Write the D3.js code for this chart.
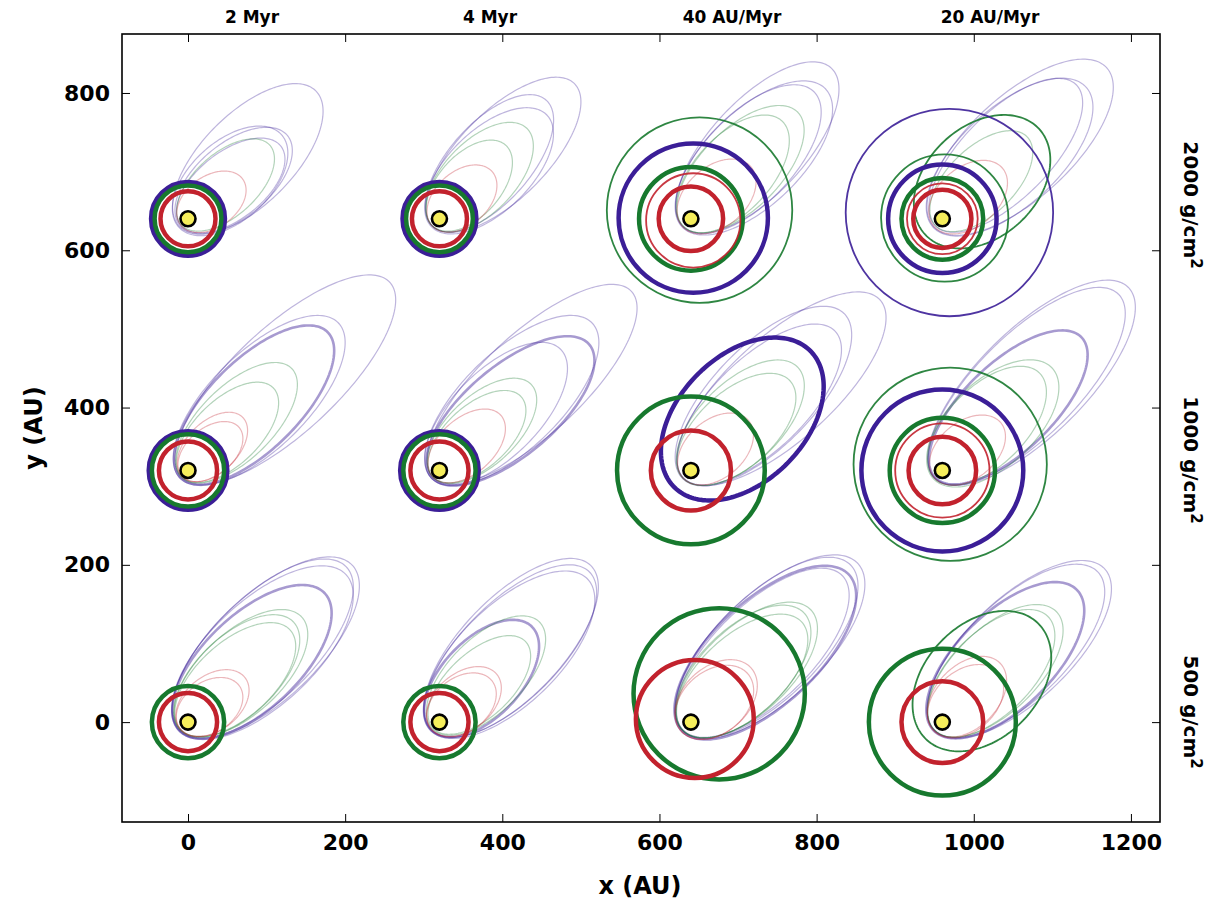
<!DOCTYPE html>
<html>
<head>
<meta charset="utf-8">
<script src="https://cdn.jsdelivr.net/npm/d3@7"></script>
<style>
  body { margin: 0; background: #fff; }
  text { font-family: "DejaVu Sans", sans-serif; font-weight: bold; fill: #000; }
</style>
</head>
<body>
<svg id="chart" width="1215" height="903"></svg>
<script>
// ---- data ----
var xTicks = [0, 200, 400, 600, 800, 1000, 1200];
var yTicks = [0, 200, 400, 600, 800];
var colTitles = ['2 Myr', '4 Myr', '40 AU/Myr', '20 AU/Myr'];
var rowLabels = ['2000', '1000', '500'];      // g/cm^2, top to bottom
var starX = [0, 320, 640, 960];               // AU, one per column
var starY = [640, 320, 0];                    // AU, one per row

// initial (faint) orbits: col, row, planet, apocentre Q (AU), e, apocentre angle (deg), weight
var initialOrbits = [
  [0,0,'p',230,0.88,45,0],[0,0,'p',165,0.85,40,0],[0,0,'p',160,0.82,42,0],[0,0,'p',150,0.85,38,0],
  [0,0,'g',140,0.85,42,0],[0,0,'r',86,0.75,36,0],
  [1,0,'p',243,0.90,45,0],[1,0,'p',203,0.88,48,0],[1,0,'p',190,0.86,44,0],
  [1,0,'g',160,0.85,46,0],[1,0,'g',126,0.82,48,0],[1,0,'r',90,0.75,42,0],
  [2,0,'p',262,0.90,47,0],[2,0,'p',238,0.88,44,0],[2,0,'p',225,0.88,46,0],
  [2,0,'g',192,0.87,45,0],[2,0,'g',170,0.85,47,0],[2,0,'r',101,0.75,41,0],
  [3,0,'p',284,0.90,42.6,0],[3,0,'p',248,0.88,42.5,0],[3,0,'p',241,0.90,45,0],
  [3,0,'g',150,0.85,44,0],[3,0,'r',100,0.75,40,0],
  [0,1,'p',351,0.93,43,0],[0,1,'p',268,0.90,44.5,0],[0,1,'p',250,0.90,44.7,1],
  [0,1,'g',185,0.88,44.5,0],[0,1,'g',151,0.86,44,0],[0,1,'r',97,0.80,44,0],[0,1,'r',85,0.78,40,0],
  [1,1,'p',334,0.93,43,0],[1,1,'p',270,0.90,44,0],[1,1,'p',249,0.90,40,1],[1,1,'p',218,0.88,45,0],
  [1,1,'g',160,0.86,43,0],[1,1,'g',140,0.85,42,0],[1,1,'r',105,0.80,42,0],
  [2,1,'p',324,0.92,42,0],[2,1,'p',279,0.90,45.7,0],[2,1,'p',255,0.90,44,0],
  [2,1,'g',189,0.86,44,0],[2,1,'g',170,0.85,42,0],[2,1,'r',97,0.75,41,0],
  [3,1,'p',332,0.92,44.5,0],[3,1,'p',317,0.92,45,0],[3,1,'p',245,0.90,43.7,1],
  [3,1,'g',191,0.85,43,0],[3,1,'g',175,0.85,45,0],[3,1,'r',96,0.75,39,0],
  [0,2,'p',289,0.90,43.7,0],[0,2,'p',282,0.90,44.5,0],[0,2,'p',275,0.89,43,0],[0,2,'p',239,0.88,43.3,1],
  [0,2,'g',197,0.87,42.7,0],[0,2,'g',185,0.86,43.5,0],[0,2,'g',175,0.86,42,0],
  [0,2,'r',92,0.75,38,0],[0,2,'r',80,0.72,35,0],
  [1,2,'p',277,0.90,46,0],[1,2,'p',270,0.90,45,0],[1,2,'p',262,0.89,44,0],[1,2,'p',169,0.84,46,1],
  [1,2,'g',180,0.87,45,0],[1,2,'g',150,0.86,43,0],[1,2,'r',95,0.75,40,0],[1,2,'r',85,0.72,38,0],
  [2,2,'p',293,0.90,43.6,0],[2,2,'p',285,0.90,44.5,0],[2,2,'p',275,0.89,43,1],[2,2,'p',268,0.90,44,0],
  [2,2,'g',209,0.87,43,0],[2,2,'g',200,0.86,44,0],[2,2,'g',190,0.86,42,0],
  [2,2,'r',103,0.72,42,0],[2,2,'r',95,0.70,40,0],
  [3,2,'p',284,0.90,43.4,0],[3,2,'p',275,0.90,44,0],[3,2,'p',240,0.88,44.5,1],
  [3,2,'g',202,0.87,44,0],[3,2,'g',190,0.86,45,0],[3,2,'r',105,0.75,46,0],[3,2,'r',95,0.72,42,0]
];

// final eccentric orbits: col, row, planet, Q, e, angle, weight
var finalEllipses = [
  [3,0,'g',168,0.70,43,2],
  [2,1,'p',215,0.755,45,3],
  [3,2,'g',175,0.707,46,2]
];

// final near-circular orbits: col, row, planet, centre dx, dy (AU), radius (AU), weight
var finalRings = [
  [0,0,'p',0,0,47,3],[0,0,'g',0,0,42.5,3],[0,0,'r',0,0,35,3],
  [1,0,'p',0,0,47,3],[1,0,'g',0,0,42.5,3],[1,0,'r',0,0,35,3],
  [2,0,'g',11,11,118,2],[2,0,'p',3,1,95,3],[2,0,'g',0,0,66,3],[2,0,'r',3,-2,60,2],[2,0,'r',0,0,41,3],
  [3,0,'p',9,8,132,2],[3,0,'g',3,1,81,2],[3,0,'p',0,0,69,3],[3,0,'g',0,0,52,3],[3,0,'r',0,0,45,2],[3,0,'r',0,0,37,3],
  [0,1,'p',0,0,50,3],[0,1,'g',0,0,46,3],[0,1,'r',0,0,37,3],
  [1,1,'p',0,0,50,3],[1,1,'g',0,0,46,3],[1,1,'r',0,0,37,3],
  [2,1,'g',0,0,94,3],[2,1,'r',0,0,51,3],
  [3,1,'g',10,8,123,2],[3,1,'p',0,0,103,3],[3,1,'g',0,0,67,3],[3,1,'r',0,0,60,2],[3,1,'r',0,0,43,3],
  [0,2,'g',0,0,46,3],[0,2,'r',0,0,37,3],
  [1,2,'g',0,0,46,3],[1,2,'r',0,0,37,3],
  [2,2,'g',36,36,109,3],[2,2,'r',5,4,75,3],
  [3,2,'g',0,0,93.5,3],[3,2,'r',0,0,52,3]
];

// ---- layout ----
var svg = d3.select('#chart');
var plotL = 122, plotR = 1160, plotT = 34, plotB = 822;

var x = d3.scaleLinear().domain([-84, 1237]).range([plotL, plotR]);
var y = d3.scaleLinear().domain([-127, 875]).range([plotB, plotT]);

var colour = d3.scaleOrdinal().domain(['p', 'g', 'r']).range(['#3b1e97', '#17792e', '#c2222d']);
var strokeW = d3.scaleOrdinal().domain([0, 1, 2, 3]).range([1.2, 2.6, 1.8, 4.5]);
var strokeO = d3.scaleOrdinal().domain([0, 1, 2, 3]).range([0.33, 0.45, 0.9, 1]);

svg.append('clipPath').attr('id', 'plotclip')
  .append('rect').attr('x', plotL).attr('y', plotT).attr('width', plotR - plotL).attr('height', plotB - plotT);

var plot = svg.append('g').attr('clip-path', 'url(#plotclip)');

var line = d3.line().x(function(d) { return x(d[0]); }).y(function(d) { return y(d[1]); })
  .curve(d3.curveLinearClosed);

// ellipse with one focus on the star, apocentre pointing along ang
function orbit(cx, cy, Q, e, ang) {
  var a = Q / (1 + e), b = a * Math.sqrt(1 - e * e);
  var w = (ang + 180) * Math.PI / 180;
  var pts = d3.range(0, 360, 2).map(function(deg) {
    var E = deg * Math.PI / 180;
    var u = a * (Math.cos(E) - e), v = b * Math.sin(E);
    return [cx + u * Math.cos(w) - v * Math.sin(w), cy + u * Math.sin(w) + v * Math.cos(w)];
  });
  return line(pts);
}

function drawOrbits(data) {
  plot.append('g').selectAll('path').data(data).enter().append('path')
    .attr('d', function(d) { return orbit(starX[d[0]], starY[d[1]], d[3], d[4], d[5]); })
    .attr('fill', 'none')
    .attr('stroke', function(d) { return colour(d[2]); })
    .attr('stroke-width', function(d) { return strokeW(d[6]); })
    .attr('stroke-opacity', function(d) { return strokeO(d[6]); });
}
drawOrbits(initialOrbits);
drawOrbits(finalEllipses);

plot.append('g').selectAll('circle').data(finalRings).enter().append('circle')
  .attr('cx', function(d) { return x(starX[d[0]] + d[3]); })
  .attr('cy', function(d) { return y(starY[d[1]] + d[4]); })
  .attr('r', function(d) { return x(d[5]) - x(0); })
  .attr('fill', 'none')
  .attr('stroke', function(d) { return colour(d[2]); })
  .attr('stroke-width', function(d) { return strokeW(d[6]); })
  .attr('stroke-opacity', function(d) { return strokeO(d[6]); });

// stars
var stars = [];
starY.forEach(function(sy) { starX.forEach(function(sx) { stars.push([sx, sy]); }); });
plot.append('g').selectAll('circle').data(stars).enter().append('circle')
  .attr('cx', function(d) { return x(d[0]); })
  .attr('cy', function(d) { return y(d[1]); })
  .attr('r', 7.5)
  .attr('fill', '#f6ee5c')
  .attr('stroke', '#000')
  .attr('stroke-width', 2.6);

// ---- axes ----
function styleAxis(g) {
  g.select('.domain').remove();
  g.selectAll('.tick line').attr('stroke', '#000').attr('stroke-width', 1);
  g.selectAll('.tick text').style('font-size', '22px').style('font-family', '"DejaVu Sans", sans-serif')
    .style('font-weight', 'bold');
}

svg.append('g').attr('transform', 'translate(0,' + plotB + ')')
  .call(d3.axisBottom(x).tickValues(xTicks).tickFormat(d3.format('d'))
    .tickSizeInner(-8).tickSizeOuter(0).tickPadding(12))
  .call(styleAxis);
svg.append('g').attr('transform', 'translate(0,' + plotT + ')')
  .call(d3.axisTop(x).tickValues(xTicks).tickSizeInner(-8).tickSizeOuter(0).tickFormat(''))
  .call(styleAxis);
svg.append('g').attr('transform', 'translate(' + plotL + ',0)')
  .call(d3.axisLeft(y).tickValues(yTicks).tickFormat(d3.format('d'))
    .tickSizeInner(-8).tickSizeOuter(0).tickPadding(12))
  .call(styleAxis);
svg.append('g').attr('transform', 'translate(' + plotR + ',0)')
  .call(d3.axisRight(y).tickValues(yTicks).tickSizeInner(-8).tickSizeOuter(0).tickFormat(''))
  .call(styleAxis);

svg.append('rect').attr('x', plotL).attr('y', plotT).attr('width', plotR - plotL).attr('height', plotB - plotT)
  .attr('fill', 'none').attr('stroke', '#000').attr('stroke-width', 1.6);

// axis labels
svg.append('text').attr('x', 640).attr('y', 894).attr('text-anchor', 'middle')
  .style('font-size', '24px').text('x (AU)');
svg.append('text').attr('transform', 'translate(42,' + ((plotT + plotB) / 2) + ') rotate(-90)')
  .attr('text-anchor', 'middle').style('font-size', '24px').text('y (AU)');

// column titles
var titleX = [252, 490, 732, 990];
svg.append('g').selectAll('text').data(colTitles).enter().append('text')
  .attr('x', function(d, i) { return titleX[i]; })
  .attr('y', 23)
  .attr('text-anchor', 'middle')
  .style('font-size', '17px')
  .text(function(d) { return d; });

// row labels (rotated, right side)
var rowMid = [205, 460, 712];
var rl = svg.append('g').selectAll('text').data(rowLabels).enter().append('text')
  .attr('transform', function(d, i) { return 'translate(1184,' + rowMid[i] + ') rotate(90)'; })
  .attr('text-anchor', 'middle')
  .style('font-size', '20px');
rl.append('tspan').text(function(d) { return d + ' g/cm'; });
rl.append('tspan').attr('dy', '-0.45em').style('font-size', '15px').text('2');
</script>
</body>
</html>
